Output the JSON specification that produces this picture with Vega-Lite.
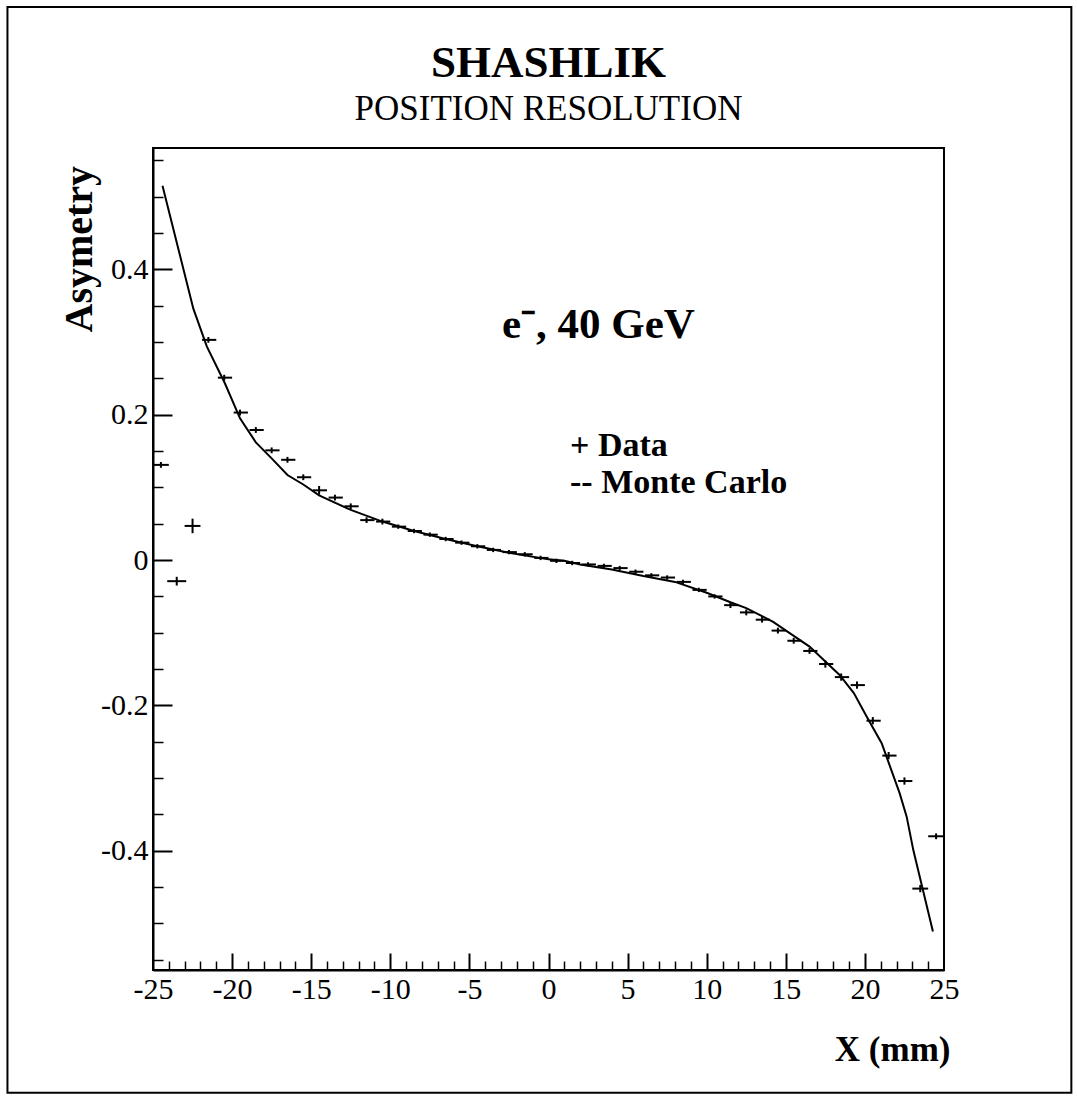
{
  "$schema": "https://vega.github.io/schema/vega-lite/v6.json",
  "width": 791,
  "height": 822,
  "autosize": {"type": "none"},
  "padding": {"left": 153, "top": 148, "right": 133, "bottom": 129},
  "background": "white",
  "config": {
    "font": "Liberation Serif",
    "view": {"stroke": "black", "strokeWidth": 2},
    "axis": {
      "grid": false,
      "domainColor": "black",
      "domainWidth": 2,
      "tickColor": "black",
      "tickWidth": 2,
      "labelColor": "black",
      "titleColor": "black",
      "labelFont": "Liberation Serif",
      "titleFont": "Liberation Serif"
    }
  },
  "title": {
    "text": "SHASHLIK",
    "subtitle": "POSITION RESOLUTION",
    "font": "Liberation Serif",
    "fontSize": 45,
    "fontWeight": "bold",
    "color": "black",
    "subtitleFont": "Liberation Serif",
    "subtitleFontSize": 35,
    "subtitleFontWeight": "normal",
    "subtitleColor": "black",
    "anchor": "middle",
    "frame": "group",
    "offset": -121,
    "subtitlePadding": 6
  },
  "datasets": {
    "mc": [
      {"x": -24.4, "y": 0.515},
      {"x": -22.45, "y": 0.346},
      {"x": -21.6, "y": 0.294},
      {"x": -20.45, "y": 0.243},
      {"x": -19.5, "y": 0.195},
      {"x": -18.5, "y": 0.162},
      {"x": -17.5, "y": 0.14},
      {"x": -16.5, "y": 0.117},
      {"x": -15.5, "y": 0.104},
      {"x": -14.5, "y": 0.089},
      {"x": -12.5, "y": 0.069},
      {"x": -10.5, "y": 0.053},
      {"x": -8.5, "y": 0.04},
      {"x": -6.5, "y": 0.029},
      {"x": -4.5, "y": 0.019},
      {"x": -2.5, "y": 0.01},
      {"x": 0, "y": 0.001},
      {"x": 1, "y": -0.001},
      {"x": 2, "y": -0.006},
      {"x": 4, "y": -0.013},
      {"x": 6, "y": -0.022},
      {"x": 8, "y": -0.03},
      {"x": 10, "y": -0.045},
      {"x": 11.5, "y": -0.058},
      {"x": 12.5, "y": -0.066},
      {"x": 14.2, "y": -0.085},
      {"x": 16.5, "y": -0.119},
      {"x": 18.4, "y": -0.158},
      {"x": 19.3, "y": -0.183},
      {"x": 20.1, "y": -0.215},
      {"x": 21.06, "y": -0.252},
      {"x": 22.2, "y": -0.321},
      {"x": 22.64, "y": -0.353},
      {"x": 23.06, "y": -0.399},
      {"x": 24.3, "y": -0.511}
    ],
    "measured": [
      {"x": -24.5, "y": 0.131, "xlo": -25.0, "xhi": -24.0, "ylo": 0.127, "yhi": 0.135},
      {"x": -23.5, "y": -0.029, "xlo": -24.1, "xhi": -22.9, "ylo": -0.035, "yhi": -0.023},
      {"x": -22.5, "y": 0.047, "xlo": -23.0, "xhi": -22.0, "ylo": 0.037, "yhi": 0.057},
      {"x": -21.5, "y": 0.303, "xlo": -21.9, "xhi": -21.0, "ylo": 0.299, "yhi": 0.307},
      {"x": -20.5, "y": 0.251, "xlo": -20.9, "xhi": -20.0, "ylo": 0.247, "yhi": 0.255},
      {"x": -19.5, "y": 0.203, "xlo": -19.9, "xhi": -19.0, "ylo": 0.199, "yhi": 0.207},
      {"x": -18.5, "y": 0.179, "xlo": -18.9, "xhi": -18.0, "ylo": 0.175, "yhi": 0.183},
      {"x": -17.5, "y": 0.151, "xlo": -17.9, "xhi": -17.0, "ylo": 0.147, "yhi": 0.155},
      {"x": -16.5, "y": 0.138, "xlo": -16.9, "xhi": -16.0, "ylo": 0.134, "yhi": 0.142},
      {"x": -15.5, "y": 0.114, "xlo": -15.9, "xhi": -15.0, "ylo": 0.11, "yhi": 0.118},
      {"x": -14.5, "y": 0.096, "xlo": -14.9, "xhi": -14.0, "ylo": 0.09, "yhi": 0.102},
      {"x": -13.5, "y": 0.086, "xlo": -13.9, "xhi": -13.0, "ylo": 0.082, "yhi": 0.09},
      {"x": -12.5, "y": 0.074, "xlo": -12.9, "xhi": -12.0, "ylo": 0.07, "yhi": 0.078},
      {"x": -11.5, "y": 0.055, "xlo": -11.9, "xhi": -11.0, "ylo": 0.051, "yhi": 0.059},
      {"x": -10.5, "y": 0.053, "xlo": -10.9, "xhi": -10.0, "ylo": 0.049, "yhi": 0.057},
      {"x": -9.5, "y": 0.046, "xlo": -9.9, "xhi": -9.0, "ylo": 0.043, "yhi": 0.049},
      {"x": -8.5, "y": 0.04, "xlo": -8.9, "xhi": -8.0, "ylo": 0.037, "yhi": 0.043},
      {"x": -7.5, "y": 0.035, "xlo": -7.9, "xhi": -7.0, "ylo": 0.032, "yhi": 0.038},
      {"x": -6.5, "y": 0.029, "xlo": -6.9, "xhi": -6.0, "ylo": 0.026, "yhi": 0.032},
      {"x": -5.5, "y": 0.024, "xlo": -5.9, "xhi": -5.0, "ylo": 0.021, "yhi": 0.027},
      {"x": -4.5, "y": 0.019, "xlo": -4.9, "xhi": -4.0, "ylo": 0.016, "yhi": 0.022},
      {"x": -3.5, "y": 0.014, "xlo": -3.9, "xhi": -3.0, "ylo": 0.011, "yhi": 0.017},
      {"x": -2.5, "y": 0.011, "xlo": -2.9, "xhi": -2.0, "ylo": 0.008, "yhi": 0.014},
      {"x": -1.5, "y": 0.008, "xlo": -1.9, "xhi": -1.0, "ylo": 0.005, "yhi": 0.011},
      {"x": -0.5, "y": 0.003, "xlo": -0.9, "xhi": 0.0, "ylo": 0.0, "yhi": 0.006},
      {"x": 0.5, "y": -0.001, "xlo": 0.1, "xhi": 1.0, "ylo": -0.004, "yhi": 0.002},
      {"x": 1.5, "y": -0.004, "xlo": 1.1, "xhi": 2.0, "ylo": -0.007, "yhi": -0.001},
      {"x": 2.5, "y": -0.006, "xlo": 2.1, "xhi": 3.0, "ylo": -0.009, "yhi": -0.003},
      {"x": 3.5, "y": -0.008, "xlo": 3.1, "xhi": 4.0, "ylo": -0.011, "yhi": -0.005},
      {"x": 4.5, "y": -0.011, "xlo": 4.1, "xhi": 5.0, "ylo": -0.014, "yhi": -0.008},
      {"x": 5.5, "y": -0.016, "xlo": 5.1, "xhi": 6.0, "ylo": -0.019, "yhi": -0.013},
      {"x": 6.5, "y": -0.021, "xlo": 6.1, "xhi": 7.0, "ylo": -0.024, "yhi": -0.018},
      {"x": 7.5, "y": -0.024, "xlo": 7.1, "xhi": 8.0, "ylo": -0.027, "yhi": -0.021},
      {"x": 8.5, "y": -0.03, "xlo": 8.1, "xhi": 9.0, "ylo": -0.033, "yhi": -0.027},
      {"x": 9.5, "y": -0.041, "xlo": 9.1, "xhi": 10.0, "ylo": -0.044, "yhi": -0.038},
      {"x": 10.5, "y": -0.05, "xlo": 10.1, "xhi": 11.0, "ylo": -0.053, "yhi": -0.047},
      {"x": 11.5, "y": -0.062, "xlo": 11.1, "xhi": 12.0, "ylo": -0.066, "yhi": -0.058},
      {"x": 12.5, "y": -0.072, "xlo": 12.1, "xhi": 13.0, "ylo": -0.076, "yhi": -0.068},
      {"x": 13.5, "y": -0.082, "xlo": 13.1, "xhi": 14.0, "ylo": -0.086, "yhi": -0.078},
      {"x": 14.5, "y": -0.097, "xlo": 14.1, "xhi": 15.0, "ylo": -0.101, "yhi": -0.093},
      {"x": 15.5, "y": -0.111, "xlo": 15.1, "xhi": 16.0, "ylo": -0.115, "yhi": -0.107},
      {"x": 16.5, "y": -0.125, "xlo": 16.1, "xhi": 17.0, "ylo": -0.129, "yhi": -0.121},
      {"x": 17.5, "y": -0.143, "xlo": 17.1, "xhi": 18.0, "ylo": -0.148, "yhi": -0.138},
      {"x": 18.5, "y": -0.161, "xlo": 18.1, "xhi": 19.0, "ylo": -0.166, "yhi": -0.156},
      {"x": 19.5, "y": -0.172, "xlo": 19.1, "xhi": 20.0, "ylo": -0.177, "yhi": -0.167},
      {"x": 20.5, "y": -0.221, "xlo": 20.1, "xhi": 21.0, "ylo": -0.226, "yhi": -0.216},
      {"x": 21.5, "y": -0.269, "xlo": 21.1, "xhi": 22.0, "ylo": -0.274, "yhi": -0.264},
      {"x": 22.5, "y": -0.304, "xlo": 22.1, "xhi": 23.0, "ylo": -0.309, "yhi": -0.299},
      {"x": 23.5, "y": -0.452, "xlo": 23.0, "xhi": 24.0, "ylo": -0.457, "yhi": -0.447},
      {"x": 24.5, "y": -0.38, "xlo": 24.0, "xhi": 25.0, "ylo": -0.384, "yhi": -0.376}
    ],
    "energy": [
      {"x": -2.94, "y": 0.306, "label": "e⁻, 40 GeV"}
    ],
    "key": [
      {"x": 1.36, "y": 0.143, "label": "+ Data"},
      {"x": 1.36, "y": 0.092, "label": "-- Monte Carlo"}
    ]
  },
  "layer": [
    {
      "description": "outer border of the figure",
      "data": {"values": [{}]},
      "mark": {"type": "rect", "fillOpacity": 0, "stroke": "black", "strokeWidth": 2},
      "encoding": {
        "x": {"datum": -34.2, "type": "quantitative", "scale": {"domain": [-25, 25], "nice": false, "zero": false}, "axis": null},
        "x2": {"datum": 33.05},
        "y": {"datum": 0.761, "type": "quantitative", "scale": {"domain": [-0.564, 0.567], "nice": false, "zero": false}, "axis": null},
        "y2": {"datum": -0.733}
      }
    },
    {
      "description": "Monte Carlo curve; carries the labelled axes",
      "data": {"name": "mc"},
      "mark": {"type": "line", "color": "black", "strokeWidth": 2},
      "encoding": {
        "x": {
          "field": "x", "type": "quantitative",
          "axis": {
            "orient": "bottom",
            "values": [-25, -20, -15, -10, -5, 0, 5, 10, 15, 20, 25],
            "ticks": false,
            "labelExpr": "datum.value + ''",
            "labelFontSize": 30,
            "labelPadding": 4,
            "labelFlush": false,
            "title": "X (mm)",
            "titleFontSize": 35,
            "titleFontWeight": "bold",
            "titleAlign": "right",
            "titleBaseline": "alphabetic",
            "titleX": 797,
            "titleY": 90
          }
        },
        "y": {
          "field": "y", "type": "quantitative",
          "axis": {
            "orient": "left",
            "values": [-0.4, -0.2, 0, 0.2, 0.4],
            "ticks": false,
            "labelExpr": "datum.value + ''",
            "labelFontSize": 30,
            "labelPadding": 5,
            "labelFlush": false,
            "title": "Asymetry",
            "titleFontSize": 40,
            "titleFontWeight": "bold",
            "titleAngle": -90,
            "titleAlign": "left",
            "titleBaseline": "alphabetic",
            "titleX": -62,
            "titleY": 184
          }
        }
      }
    },
    {
      "description": "horizontal bars of the measured points; carries the major ticks",
      "data": {"name": "measured"},
      "mark": {"type": "rule", "color": "black", "strokeWidth": 2},
      "encoding": {
        "x": {
          "field": "xlo", "type": "quantitative",
          "axis": {"orient": "bottom", "domain": false, "labels": false, "title": null, "tickSize": -17,
                   "values": [-20, -15, -10, -5, 0, 5, 10, 15, 20]}
        },
        "x2": {"field": "xhi"},
        "y": {
          "field": "y", "type": "quantitative",
          "axis": {"orient": "left", "domain": false, "labels": false, "title": null, "tickSize": -19,
                   "values": [-0.4, -0.2, 0, 0.2, 0.4]}
        }
      }
    },
    {
      "description": "vertical bars of the measured points; carries the minor ticks",
      "data": {"name": "measured"},
      "mark": {"type": "rule", "color": "black", "strokeWidth": 2},
      "encoding": {
        "x": {
          "field": "x", "type": "quantitative",
          "axis": {"orient": "bottom", "domain": false, "labels": false, "title": null, "tickSize": -9, "tickWidth": 1.5,
                   "values": [-24, -23, -22, -21, -19, -18, -17, -16, -14, -13, -12, -11, -9, -8, -7, -6, -4, -3, -2, -1,
                              1, 2, 3, 4, 6, 7, 8, 9, 11, 12, 13, 14, 16, 17, 18, 19, 21, 22, 23, 24]}
        },
        "y": {
          "field": "ylo", "type": "quantitative",
          "axis": {"orient": "left", "domain": false, "labels": false, "title": null, "tickSize": -10, "tickWidth": 1.5,
                   "values": [-0.55, -0.5, -0.45, -0.35, -0.3, -0.25, -0.15, -0.1, -0.05,
                              0.05, 0.1, 0.15, 0.25, 0.3, 0.35, 0.45, 0.5, 0.55]}
        },
        "y2": {"field": "yhi"}
      }
    },
    {
      "description": "beam label",
      "data": {"name": "energy"},
      "mark": {"type": "text", "align": "left", "baseline": "alphabetic", "font": "Liberation Serif", "fontSize": 43, "fontWeight": "bold", "color": "black"},
      "encoding": {
        "x": {"field": "x", "type": "quantitative", "axis": null},
        "y": {"field": "y", "type": "quantitative", "axis": null},
        "text": {"field": "label"}
      }
    },
    {
      "description": "key lines",
      "data": {"name": "key"},
      "mark": {"type": "text", "align": "left", "baseline": "alphabetic", "font": "Liberation Serif", "fontSize": 34, "fontWeight": "bold", "color": "black"},
      "encoding": {
        "x": {"field": "x", "type": "quantitative", "axis": null},
        "y": {"field": "y", "type": "quantitative", "axis": null},
        "text": {"field": "label"}
      }
    }
  ],
  "resolve": {"axis": {"x": "independent", "y": "independent"}}
}
